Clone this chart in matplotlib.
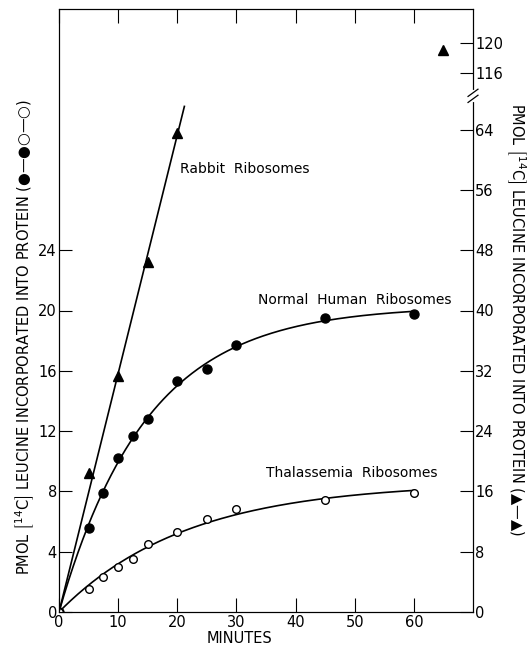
import numpy as np
import matplotlib
matplotlib.use("Agg")
import matplotlib.pyplot as plt

# data (minutes, pmol)
minutes_human = [0, 5, 7.5, 10, 12.5, 15, 20, 25, 30, 45, 60]
normal_human = [0, 5.6, 7.9, 10.2, 11.7, 12.8, 15.3, 16.1, 17.7, 19.5, 19.8]

minutes_thal = [0, 5, 7.5, 10, 12.5, 15, 20, 25, 30, 45, 60]
thalassemia = [0, 1.5, 2.3, 3.0, 3.5, 4.5, 5.3, 6.2, 6.8, 7.4, 7.9]

minutes_rabbit = [5, 10, 15, 20]
rabbit = [18.4, 31.3, 46.4, 63.6]
rabbit_late_min = [65]
rabbit_late = [119]

left_ticks = [0, 4, 8, 12, 16, 20, 24]
right_ticks = [0, 8, 16, 24, 32, 40, 48, 56, 64, 116, 120]
x_ticks = [0, 10, 20, 30, 40, 50, 60]


def sat_fit(x, y):
    # y = A(1 - exp(-kx)) + c x with c >= 0, k by grid search
    x = np.asarray(x, float)
    y = np.asarray(y, float)
    best = None
    for k in np.linspace(0.005, 0.4, 800):
        e = 1 - np.exp(-k * x)
        M = np.column_stack([e, x])
        coef, *_ = np.linalg.lstsq(M, y, rcond=None)
        if coef[1] < 0:
            A = np.dot(e, y) / np.dot(e, e)
            coef = np.array([A, 0.0])
        r = np.sum((M @ coef - y) ** 2)
        if best is None or r < best[0]:
            best = (r, k, coef)
    _, k, (A, c) = best
    return lambda t: A * (1 - np.exp(-k * t)) + c * t


# broken right axis: 68..114 squeezed into a small gap
def fwd(v):
    return np.interp(v, [-1000, 68, 114, 1000], [-1000, 68, 69.5, 955.5])


def inv(u):
    return np.interp(u, [-1000, 68, 69.5, 955.5], [-1000, 68, 114, 1000])


plt.rcParams['font.family'] = 'DejaVu Sans'
fig = plt.figure(figsize=(5.28, 6.51), dpi=100)
ax = fig.add_axes([59 / 528, 1 - 612 / 651, 414 / 528, 603 / 651])
ax2 = ax.twinx()

t = np.linspace(0, 60, 300)
ax.plot(t, sat_fit(minutes_human, normal_human)(t), color='black', lw=1.2)
ax.plot(t, sat_fit(minutes_thal, thalassemia)(t), color='black', lw=1.2)
ax.plot(minutes_human, normal_human, 'o', color='black', ms=6.5, zorder=3)
ax.plot(minutes_thal, thalassemia, 'o', mfc='white', mec='black', mew=1.0,
        ms=5.5, zorder=3)

ax2.set_yscale('function', functions=(fwd, inv))
xr = np.asarray(minutes_rabbit, float)
slope = np.sum(xr * np.asarray(rabbit)) / np.sum(xr * xr)
tr = np.array([0, 21.2])
ax2.plot(tr, slope * tr, color='black', lw=1.2)
ax2.plot(minutes_rabbit, rabbit, '^', color='black', ms=7, zorder=3)
ax2.plot(rabbit_late_min, rabbit_late, '^', color='black', ms=7, zorder=3)

ax.set_xlim(0, 70)
ax.set_ylim(0, 40)
ax2.set_ylim(0, inv(80))

ax.set_xticks(x_ticks)
ax.set_yticks(left_ticks)
ax2.set_yticks(right_ticks)

ax.tick_params(axis='x', direction='in', length=10, width=0.8, top=True,
               labelsize=10.5, pad=2.5)
ax.tick_params(axis='y', direction='in', length=9.5, width=0.8,
               labelsize=10.5, pad=1.5)
ax2.tick_params(axis='y', direction='in', length=9.5, width=0.8,
                labelsize=10.5, pad=1.5)
for a in (ax, ax2):
    for s in a.spines.values():
        s.set_linewidth(0.8)

# break mark on the right spine
ax2.plot([1, 1], [0.849, 0.862], transform=ax2.transAxes, color='white',
         lw=3, clip_on=False, zorder=5)
for yc in (0.851, 0.861):
    ax2.plot([1 - 0.012, 1 + 0.012], [yc - 0.006, yc + 0.006],
             transform=ax2.transAxes, color='black', lw=0.9,
             clip_on=False, zorder=6)

ax.text(20.5, 29.4, 'Rabbit  Ribosomes', fontsize=10, va='center')
ax.text(33.6, 20.7, 'Normal  Human  Ribosomes', fontsize=10, va='center')
ax.text(35.0, 9.2, 'Thalassemia  Ribosomes', fontsize=10, va='center')

ax.set_xlabel('MINUTES', fontsize=10.5, va='center')
ax.xaxis.set_label_coords(0.437, -0.044)

bracket = r'$\left[{}^{14}_{\ }\mathrm{C}\right]$'
ax.set_ylabel('PMOL ' + bracket + ' LEUCINE INCORPORATED INTO PROTEIN (●—●○—○)',
              fontsize=10.5, va='center')
ax.yaxis.set_label_coords(-0.082, 0.456)
ax2.set_ylabel('PMOL ' + bracket + ' LEUCINE INCORPORATED INTO PROTEIN (▲—▲)',
               fontsize=10.5, rotation=-90, va='center')
ax2.yaxis.set_label_coords(1.104, 0.486)

fig.savefig('out.png', dpi=100)
